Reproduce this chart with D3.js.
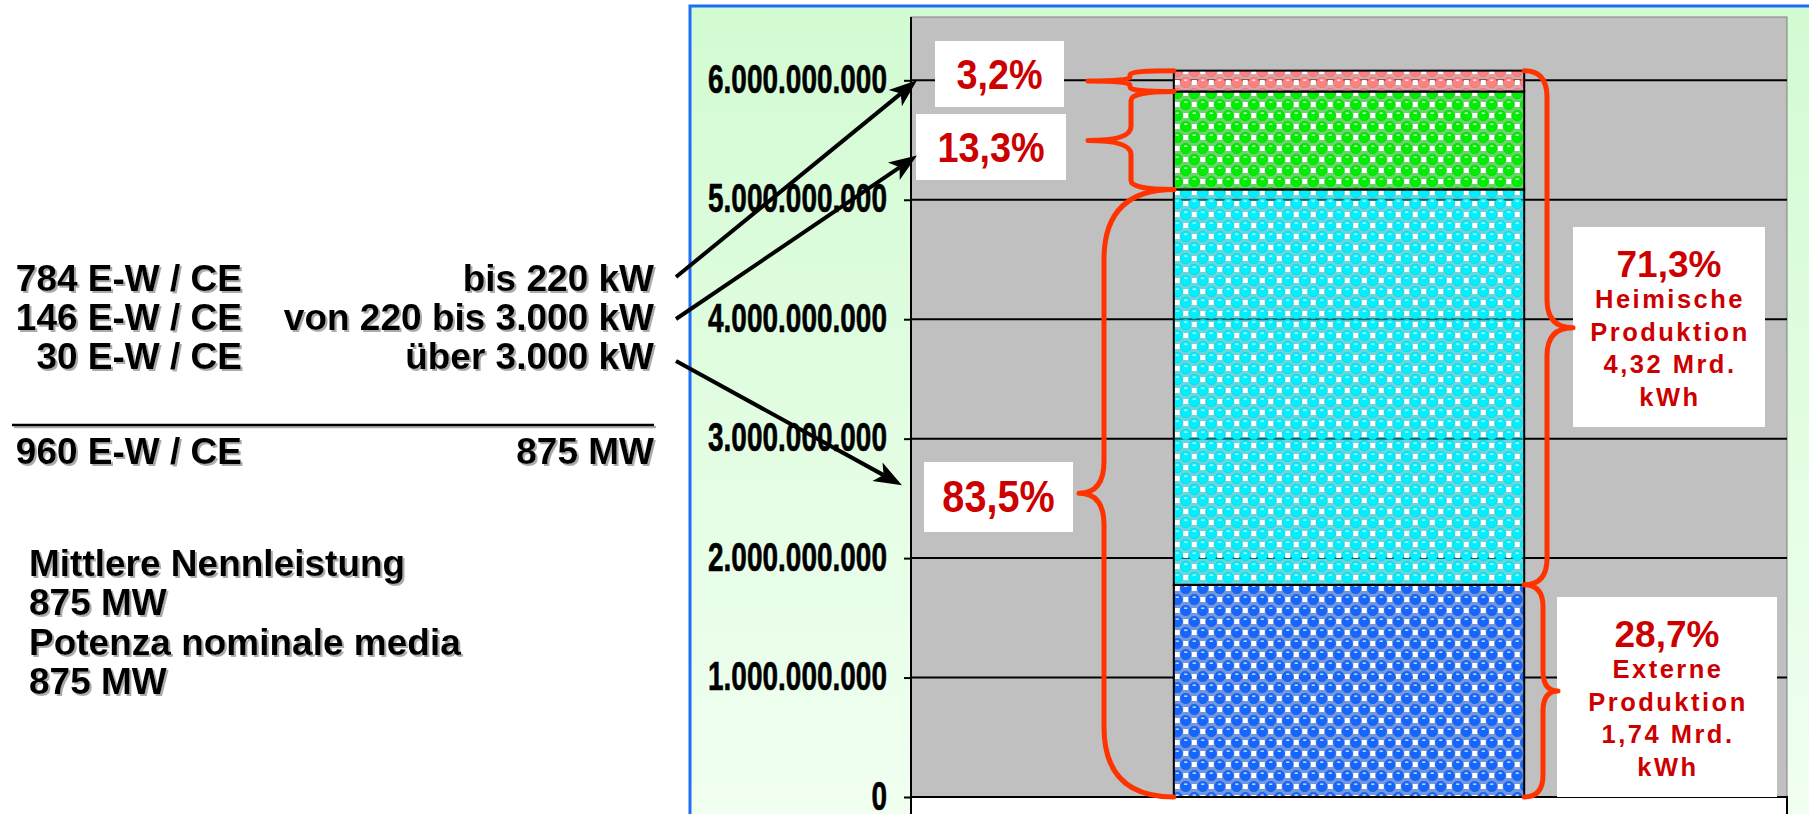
<!DOCTYPE html>
<head>
<meta charset="utf-8">
<script src="https://d3js.org/d3.v7.min.js"></script>
</head>
<style>
body { margin: 0; background: #fff; }
svg { display: block; }
.ltext { font-family: "Liberation Sans", Arial, sans-serif; font-weight: bold; font-size: 37px; fill: #000; }
.pct { font-family: "Liberation Sans", Arial, sans-serif; font-weight: bold; fill: #cc0000; }
</style>
<body>
<svg id="chart" width="1809" height="814"></svg>
<script>

// ---- data ----
var categories = ["Produktion"];
var segmentNames = ["Externe Produktion", "über 3.000 kW", "von 220 bis 3.000 kW", "bis 220 kW"];
var segmentValues = [1.776e9, 3.31e9, 0.82e9, 0.175e9];
var yTicks = [0, 1e9, 2e9, 3e9, 4e9, 5e9, 6e9];
var yMax = 6.53e9;

var plantCounts = ["784 E-W / CE", "146 E-W / CE", "30 E-W / CE"];
var plantClasses = ["bis 220 kW", "von 220 bis 3.000 kW", "über 3.000 kW"];
var totalCount = "960 E-W / CE";
var totalPower = "875 MW";
var notes = ["Mittlere Nennleistung", "875 MW", "Potenza nominale media", "875 MW"];

// arrow from each class line to a value on the y axis
var arrowTargets = [6.0e9, 5.37e9, 2.61e9];

// braces: label, first / last segment, side
var braceLabels = ["3,2%", "13,3%", "83,5%", "71,3%", "28,7%"];
var braceFrom = [3, 2, 0, 1, 0];
var braceTo = [3, 2, 1, 3, 0];
var braceSide = ["left", "left", "left", "right", "right"];
var braceNotes = [[], [], [], ["Heimische", "Produktion", "4,32 Mrd.", "kWh"], ["Externe", "Produktion", "1,74 Mrd.", "kWh"]];

// ---- layout ----
var svg = d3.select("#chart");
var plot = {left: 911, right: 1787, top: 17, bottom: 797};

var y = d3.scaleLinear().domain([0, yMax]).range([plot.bottom, plot.top]);
var x = d3.scaleBand().domain(categories).range([plot.left, plot.right]).paddingInner(0).paddingOuter(0.75);
var color = d3.scaleOrdinal().domain(segmentNames).range(["#1466ff", "#00f0ff", "#00ee00", "#ff8080"]);

var tops = d3.cumsum(segmentValues);
var bases = [0].concat(Array.from(tops).slice(0, -1));

var defs = svg.append("defs");

var grad = defs.append("linearGradient").attr("id", "panelbg")
    .attr("x1", 0).attr("y1", 0).attr("x2", 0).attr("y2", 1);
grad.append("stop").attr("offset", "0%").attr("stop-color", "#d2fbd2");
grad.append("stop").attr("offset", "100%").attr("stop-color", "#f4fff4");

var shadow = defs.append("filter").attr("id", "shadow")
    .attr("x", "-5%").attr("y", "-20%").attr("width", "110%").attr("height", "150%");
shadow.append("feDropShadow").attr("dx", 2).attr("dy", 2).attr("stdDeviation", 0.7)
    .attr("flood-color", "#888").attr("flood-opacity", 0.7);

// dotted "ball" pattern like the excel fill
segmentNames.forEach(function(name, i) {
  var c = color(name);
  var p = defs.append("pattern").attr("id", "dots" + i)
      .attr("patternUnits", "userSpaceOnUse").attr("width", 17).attr("height", 22);
  p.append("rect").attr("width", 17).attr("height", 22).attr("fill", c).attr("opacity", 0.45);
  // white checker squares in the empty lattice spots
  [[12.75, 5.5], [4.25, 16.5]].forEach(function(pt) {
    p.append("rect").attr("x", pt[0] - 2.5).attr("y", pt[1] - 2.5).attr("width", 5).attr("height", 5).attr("fill", "#fff");
  });
  [[4.25, 5.5], [12.75, 16.5], [-4.25, 16.5], [21.25, 5.5]].forEach(function(pt) {
    p.append("circle").attr("cx", pt[0]).attr("cy", pt[1]).attr("r", 5.2)
        .attr("fill", c).attr("stroke", d3.color(c).darker(0.4)).attr("stroke-width", 0.6);
    p.append("rect").attr("x", pt[0] - 1.6).attr("y", pt[1] - 3).attr("width", 3.2).attr("height", 1.3)
        .attr("fill", "#fff").attr("opacity", 0.9);
  });
});

// panel
svg.append("rect").attr("x", 690).attr("y", 6).attr("width", 1200).attr("height", 900)
    .attr("fill", "url(#panelbg)").attr("stroke", "#1c6ff5").attr("stroke-width", 3);

// plot area
svg.append("rect").attr("x", plot.left).attr("y", plot.top)
    .attr("width", plot.right - plot.left).attr("height", plot.bottom - plot.top)
    .attr("fill", "#c0c0c0").attr("stroke", "#808080").attr("stroke-width", 1);
svg.append("rect").attr("x", plot.left).attr("y", plot.bottom)
    .attr("width", plot.right - plot.left).attr("height", 40)
    .attr("fill", "#fff").attr("stroke", "#000").attr("stroke-width", 2);

// gridlines
svg.append("g").selectAll("line")
  .data(yTicks)
  .enter().append("line")
    .attr("x1", plot.left).attr("x2", plot.right)
    .attr("y1", function(d) { return y(d); })
    .attr("y2", function(d) { return y(d); })
    .attr("stroke", "#000").attr("stroke-width", 2);

// stacked bar
svg.append("g").selectAll("rect")
  .data(segmentNames)
  .enter().append("rect")
    .attr("x", x(categories[0]))
    .attr("width", x.bandwidth())
    .attr("y", function(d, i) { return y(tops[i]); })
    .attr("height", function(d, i) { return y(bases[i]) - y(tops[i]); })
    .attr("fill", function(d, i) { return "url(#dots" + i + ")"; })
    .attr("stroke", "#000").attr("stroke-width", 2);

// y axis
svg.append("line").attr("x1", plot.left).attr("x2", plot.left)
    .attr("y1", plot.top).attr("y2", plot.bottom).attr("stroke", "#000").attr("stroke-width", 2);

var fmt = d3.formatLocale({decimal: ",", thousands: ".", grouping: [3], currency: ["", ""]}).format(",d");
var yAxis = svg.append("g")
    .attr("transform", "translate(" + plot.left + ",0)")
    .call(d3.axisLeft(y).tickValues(yTicks).tickFormat(fmt).tickSize(7).tickSizeOuter(0));
yAxis.select(".domain").remove();
yAxis.attr("font-family", "'Liberation Sans', Arial, sans-serif").attr("font-size", 40);
yAxis.selectAll(".tick line").attr("stroke", "#000").attr("stroke-width", 2);
yAxis.selectAll(".tick text")
    .attr("x", null).attr("dy", null)
    .attr("text-anchor", "end")
    .attr("font-weight", "bold")
    .attr("fill", "#000")
    .attr("stroke", "#000").attr("stroke-width", 0.6)
    .attr("transform", "translate(-24,12) scale(0.7,1)");

// braces
var braceGeom = [
  {spine: 1130, tip: 1088, rEnd: 4, rTip: 4, box: {x: 935, y: 41, w: 129, h: 66}},
  {spine: 1131, tip: 1088, rEnd: 9, rTip: 14, box: {x: 916, y: 114, w: 150, h: 66}},
  {spine: 1104, tip: 1079, rEnd: 70, rTip: 32, box: {x: 924, y: 462, w: 149, h: 70}},
  {spine: 1547, tip: 1573, rEnd: 26, rTip: 28, box: {x: 1573, y: 227, w: 192, h: 200}},
  {spine: 1543, tip: 1558, rEnd: 22, rTip: 20, box: {x: 1557, y: 597, w: 220, h: 200}}
];

function bracePath(xe, y0, y1, xs, xt, rEnd, rTip) {
  var ym = (y0 + y1) / 2;
  var r = Math.min(rEnd, (ym - y0) / 2), r2 = Math.min(rTip, (ym - y0) / 2);
  return "M" + xe + "," + y0 +
    "Q" + xs + "," + y0 + " " + xs + "," + (y0 + r) +
    "L" + xs + "," + (ym - r2) +
    "Q" + xs + "," + ym + " " + xt + "," + ym +
    "Q" + xs + "," + ym + " " + xs + "," + (ym + r2) +
    "L" + xs + "," + (y1 - r) +
    "Q" + xs + "," + y1 + " " + xe + "," + y1;
}

var notesG = svg.append("g");
braceLabels.forEach(function(lab, i) {
  var g = braceGeom[i];
  var y0 = y(tops[braceTo[i]]), y1 = y(bases[braceFrom[i]]);
  var xe = braceSide[i] == "left" ? x(categories[0]) : x(categories[0]) + x.bandwidth();

  notesG.append("rect").attr("x", g.box.x).attr("y", g.box.y)
      .attr("width", g.box.w).attr("height", g.box.h).attr("fill", "#fff");

  notesG.append("path").attr("d", bracePath(xe, y0, y1, g.spine, g.tip, g.rEnd, g.rTip))
      .attr("fill", "none").attr("stroke", "#ff3300").attr("stroke-width", 5)
      .attr("stroke-linecap", "round").attr("stroke-linejoin", "round");

  var cx = g.box.x + g.box.w / 2;
  if (braceSide[i] == "left") {
    notesG.append("text").attr("class", "pct")
        .attr("text-anchor", "middle").attr("font-size", i == 2 ? 44 : 42)
        .attr("transform", "translate(" + cx + "," + (g.box.y + g.box.h / 2 + 15) + ") scale(0.9,1)")
        .text(lab);
  } else {
    notesG.append("text").attr("class", "pct")
        .attr("text-anchor", "middle").attr("font-size", 37)
        .attr("x", cx).attr("y", g.box.y + 50)
        .text(lab);
    braceNotes[i].forEach(function(t, k) {
      notesG.append("text").attr("class", "pct")
          .attr("text-anchor", "middle").attr("font-size", 25.5).attr("letter-spacing", 2.5)
          .attr("x", cx + 1).attr("y", g.box.y + 81 + k * 32.5)
          .text(t);
    });
  }
});

// left text block
var textG = svg.append("g").attr("filter", "url(#shadow)");
var rowY = [278, 317, 356];
plantCounts.forEach(function(t, i) {
  textG.append("text").attr("class", "ltext").attr("text-anchor", "end")
      .attr("x", 242).attr("y", rowY[i] + 13).text(t);
  textG.append("text").attr("class", "ltext").attr("text-anchor", "end")
      .attr("x", 654).attr("y", rowY[i] + 13).text(plantClasses[i]);
});
textG.append("line").attr("x1", 12).attr("x2", 654).attr("y1", 425).attr("y2", 425)
    .attr("stroke", "#000").attr("stroke-width", 2.5);
textG.append("text").attr("class", "ltext").attr("text-anchor", "end")
    .attr("x", 242).attr("y", 464).text(totalCount);
textG.append("text").attr("class", "ltext").attr("text-anchor", "end")
    .attr("x", 654).attr("y", 464).text(totalPower);
notes.forEach(function(t, i) {
  textG.append("text").attr("class", "ltext")
      .attr("x", 29).attr("y", 576 + i * 39.3).text(t);
});

// arrows
var arrowG = svg.append("g");
arrowTargets.forEach(function(v, i) {
  var sx = 676, sy = rowY[i] - 1 + i * 3;
  var tx = i < 2 ? 917 : 902, ty = y(v);
  var dx = tx - sx, dy = ty - sy, len = Math.sqrt(dx * dx + dy * dy);
  var ux = dx / len, uy = dy / len, nx = -uy, ny = ux;
  var L = 28, W = 10.5, notch = 7;
  arrowG.append("line")
      .attr("x1", sx).attr("y1", sy)
      .attr("x2", tx - (L - notch) * ux).attr("y2", ty - (L - notch) * uy)
      .attr("stroke", "#000").attr("stroke-width", 4);
  arrowG.append("path")
      .attr("d", "M" + tx + "," + ty +
        "L" + (tx - L * ux + W * nx) + "," + (ty - L * uy + W * ny) +
        "L" + (tx - (L - notch) * ux) + "," + (ty - (L - notch) * uy) +
        "L" + (tx - L * ux - W * nx) + "," + (ty - L * uy - W * ny) + "Z")
      .attr("fill", "#000");
});

</script>
</body>
